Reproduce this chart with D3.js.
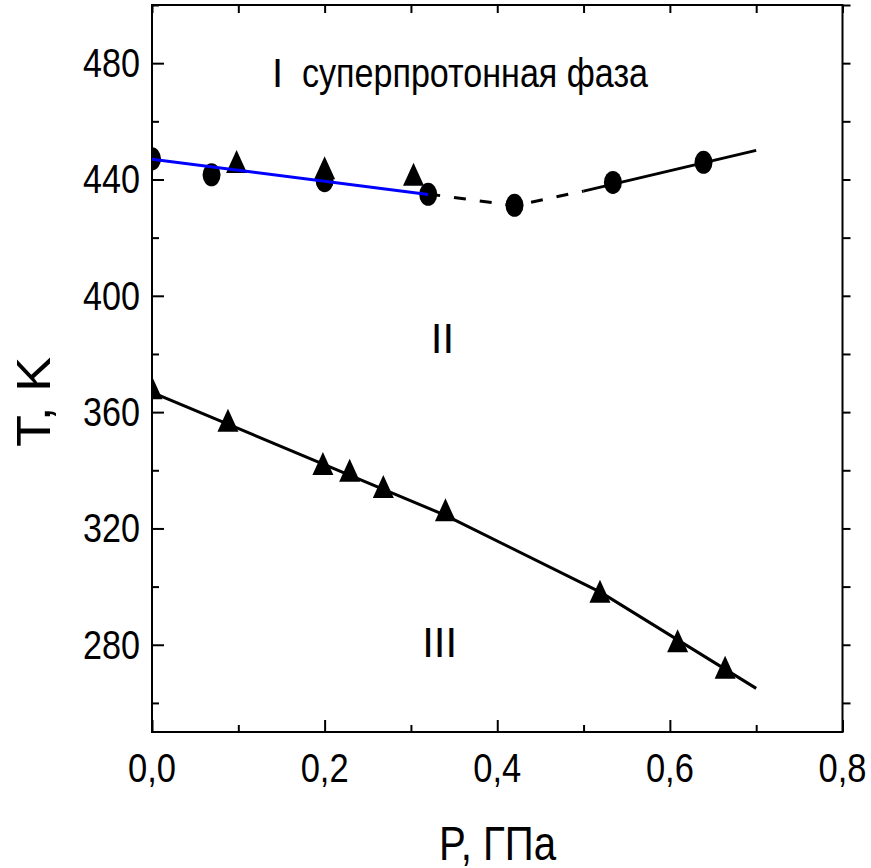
<!DOCTYPE html>
<html><head><meta charset="utf-8">
<script src="https://cdn.jsdelivr.net/npm/d3@7"></script>
<style>body{margin:0;background:#fff} text{font-family:"Liberation Sans",Arial,sans-serif;fill:#000}</style>
</head><body><svg id="c" width="871" height="868"></svg>
<script>
const xTicks = [0, 0.2, 0.4, 0.6, 0.8];
const xTickLabels = ["0,0", "0,2", "0,4", "0,6", "0,8"];
const xMinor = [0.1, 0.3, 0.5, 0.7];
const yTicks = [280, 320, 360, 400, 440, 480];
const yTickLabels = ["280", "320", "360", "400", "440", "480"];
const yMinor = [260, 300, 340, 380, 420, 460, 500];
const circlesP = [0, 0.069, 0.2, 0.32, 0.42, 0.534, 0.639];
const circlesT = [447.1, 441.6, 439.6, 434.9, 431.1, 439.0, 445.9];
const upperTriP = [0.098, 0.2, 0.303];
const upperTriT = [446.2, 444.0, 441.8];
const lowerTriP = [0, 0.088, 0.198, 0.229, 0.268, 0.34, 0.519, 0.609, 0.664];
const lowerTriT = [368.4, 357.2, 342.3, 340.0, 334.4, 326.4, 298.4, 281.4, 272.3];
const blueLineP = [0, 0.32], blueLineT = [447, 434.8];
const dashLineP = [0.32, 0.42, 0.5], dashLineT = [435, 431, 436];
const upperLineP = [0.5, 0.7], upperLineT = [436, 450];
const lowerLineP = [0, 0.34, 0.52, 0.7], lowerLineT = [366.8, 324.5, 298, 265];

const svg = d3.select("#c");
const L = 152, R = 842.5, T = 5, B = 732;
const x = d3.scaleLinear([0, 0.8], [L, R]);
const y = d3.scaleLinear([250, 500], [B, T]);

svg.append("defs").append("clipPath").attr("id", "clip")
  .append("rect").attr("x", L).attr("y", T).attr("width", R - L).attr("height", B - T);

// axes ticks
function ax(gen, tr, vals, size) {
  const g = svg.append("g").attr("transform", tr)
    .call(gen.tickValues(vals).tickSizeInner(size).tickSizeOuter(0).tickFormat(""));
  g.select(".domain").remove();
  g.selectAll("line").attr("stroke", "#000").attr("stroke-width", 2);
  return g;
}
ax(d3.axisBottom(x), `translate(0,${B})`, xTicks, -12);
ax(d3.axisBottom(x), `translate(0,${B})`, xMinor, -7);
ax(d3.axisTop(x), `translate(0,${T})`, xTicks, -8);
ax(d3.axisTop(x), `translate(0,${T})`, xMinor, -8);
ax(d3.axisLeft(y), `translate(${L},0)`, yTicks, -12);
ax(d3.axisLeft(y), `translate(${L},0)`, yMinor, -7);
ax(d3.axisRight(y), `translate(${R},0)`, yTicks, 8);
ax(d3.axisRight(y), `translate(${R},0)`, yMinor, 8);

// frame
svg.append("rect").attr("x", L).attr("y", T).attr("width", R - L).attr("height", B - T)
  .attr("fill", "none").attr("stroke", "#000").attr("stroke-width", 2);

// tick labels
svg.append("g").selectAll("text").data(xTicks).join("text")
  .attr("x", d => x(d)).attr("y", 781.5).attr("text-anchor", "middle")
  .attr("font-size", 41).attr("textLength", 48).attr("lengthAdjust", "spacingAndGlyphs")
  .text((d, i) => xTickLabels[i]);
svg.append("g").selectAll("text").data(yTicks).join("text")
  .attr("x", 140).attr("y", d => y(d) + 14).attr("text-anchor", "end")
  .attr("font-size", 41).attr("textLength", 57).attr("lengthAdjust", "spacingAndGlyphs")
  .text((d, i) => yTickLabels[i]);

const plot = svg.append("g").attr("clip-path", "url(#clip)");
const line = d3.line().x(d => x(d[0])).y(d => y(d[1]));
const zip = (a, b) => a.map((v, i) => [v, b[i]]);

plot.append("path").attr("d", line(zip(lowerLineP, lowerLineT)))
  .attr("fill", "none").attr("stroke", "#000").attr("stroke-width", 3);
plot.append("path").attr("d", line(zip(upperLineP, upperLineT)))
  .attr("fill", "none").attr("stroke", "#000").attr("stroke-width", 3);
plot.append("path").attr("d", line(zip(dashLineP, dashLineT)))
  .attr("fill", "none").attr("stroke", "#000").attr("stroke-width", 3).attr("stroke-dasharray", "12,14");

// markers
const tri = (cx, cy) => `M${cx},${cy - 11.5}L${cx + 10.5},${cy + 11.5}L${cx - 10.5},${cy + 11.5}Z`;
plot.append("g").selectAll("ellipse").data(zip(circlesP, circlesT)).join("ellipse")
  .attr("cx", d => x(d[0])).attr("cy", d => y(d[1])).attr("rx", 9).attr("ry", 11.5).attr("fill", "#000");
plot.append("g").selectAll("path").data(zip(upperTriP, upperTriT).concat(zip(lowerTriP, lowerTriT))).join("path")
  .attr("d", d => tri(x(d[0]), y(d[1]))).attr("fill", "#000");

plot.append("path").attr("d", line(zip(blueLineP, blueLineT)))
  .attr("fill", "none").attr("stroke", "#0000ff").attr("stroke-width", 3);

// annotations
svg.append("text").attr("x", 272).attr("y", 86.7).attr("font-size", 40).text("I");
svg.append("text").attr("x", 302).attr("y", 86.7).attr("font-size", 40)
  .attr("textLength", 346).attr("lengthAdjust", "spacingAndGlyphs").text("суперпротонная фаза");
svg.append("text").attr("x", 442.5).attr("y", 353.3).attr("font-size", 42).attr("text-anchor", "middle").text("II");
svg.append("text").attr("x", 439.7).attr("y", 656.7).attr("font-size", 42).attr("text-anchor", "middle").text("III");

// axis titles
svg.append("text").attr("x", 439).attr("y", 860).attr("font-size", 49)
  .attr("textLength", 117).attr("lengthAdjust", "spacingAndGlyphs").text("P, ГПа");
svg.append("text").attr("transform", "translate(50,447) rotate(-90)").attr("font-size", 49)
  .attr("textLength", 90).attr("lengthAdjust", "spacingAndGlyphs").text("T, K");
</script></body></html>
